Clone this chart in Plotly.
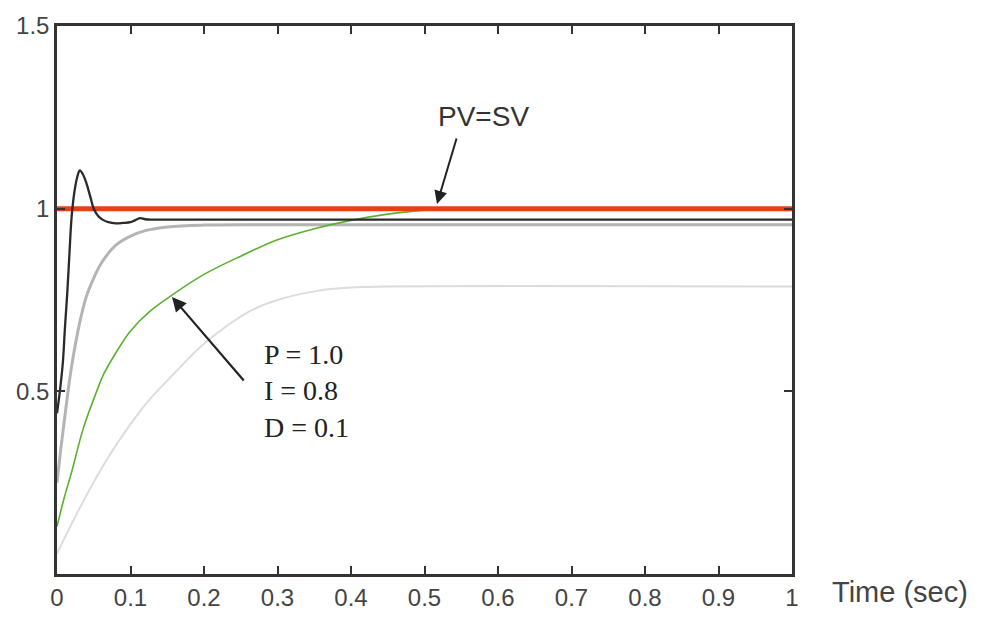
import plotly.graph_objects as go

# Setpoint (PV=SV)
sp_t = [0.0, 1.0]
sp_v = [1.0, 1.0]

# Dark (black) response with overshoot
blk_t = [0.0, 0.002, 0.005, 0.008, 0.011, 0.014, 0.017, 0.02, 0.024, 0.028, 0.031, 0.035,
         0.04, 0.045, 0.05, 0.056, 0.062, 0.07, 0.08, 0.09, 0.1, 0.106, 0.113, 0.12, 0.13, 0.2, 1.0]
blk_v = [0.44, 0.47, 0.52, 0.58, 0.68, 0.77, 0.88, 0.98, 1.05, 1.09, 1.105, 1.095,
         1.07, 1.035, 1.0, 0.98, 0.97, 0.963, 0.96, 0.961, 0.963, 0.968, 0.974, 0.971, 0.97, 0.97, 0.97]

# Medium gray response
gry_t = [0.0, 0.005, 0.01, 0.015, 0.02, 0.03, 0.04, 0.05, 0.06, 0.08, 0.1, 0.12, 0.15, 0.2, 0.3, 1.0]
gry_v = [0.25, 0.34, 0.42, 0.50, 0.57, 0.68, 0.76, 0.81, 0.85, 0.90, 0.925, 0.94, 0.95, 0.955, 0.956, 0.956]

# Green response (P=1.0, I=0.8, D=0.1)
grn_t = [0.0, 0.01, 0.02, 0.036, 0.054, 0.063, 0.08, 0.1, 0.127, 0.154, 0.2, 0.25, 0.3,
         0.35, 0.4, 0.45, 0.5, 0.55, 0.79]
grn_v = [0.13, 0.21, 0.28, 0.40, 0.50, 0.545, 0.605, 0.665, 0.72, 0.76, 0.82, 0.87, 0.915,
         0.945, 0.968, 0.985, 0.996, 1.0, 1.0]

# Light gray response
lgt_t = [0.0, 0.036, 0.07, 0.1, 0.127, 0.16, 0.2, 0.263, 0.3, 0.354, 0.4, 0.45, 1.0]
lgt_v = [0.056, 0.2, 0.32, 0.41, 0.48, 0.55, 0.63, 0.72, 0.75, 0.775, 0.784, 0.787, 0.787]

x_ticks = [0, 0.1, 0.2, 0.3, 0.4, 0.5, 0.6, 0.7, 0.8, 0.9, 1]
x_labels = ["0", "0.1", "0.2", "0.3", "0.4", "0.5", "0.6", "0.7", "0.8", "0.9", "1"]
y_ticks = [0.5, 1, 1.5]
y_labels = ["0.5", "1", "1.5"]

fig = go.Figure()
fig.add_trace(go.Scatter(x=lgt_t, y=lgt_v, mode="lines", line=dict(color="#dcdcdc", width=2, shape="spline")))
fig.add_trace(go.Scatter(x=gry_t, y=gry_v, mode="lines", line=dict(color="#b4b4b4", width=3, shape="spline")))
fig.add_trace(go.Scatter(x=grn_t, y=grn_v, mode="lines", line=dict(color="#5cb030", width=1.6, shape="spline")))
fig.add_trace(go.Scatter(x=sp_t, y=sp_v, mode="lines", line=dict(color="#e4420e", width=5)))
fig.add_trace(go.Scatter(x=blk_t, y=blk_v, mode="lines", line=dict(color="#2a2a2a", width=2.3, shape="spline")))

axis_common = dict(
    showline=True, linecolor="#333333", linewidth=2.5, mirror="ticks",
    ticks="inside", ticklen=8, tickwidth=1.5, tickcolor="#333333",
    showgrid=False, zeroline=False,
    tickfont=dict(family="Liberation Sans, Arial", size=24, color="#444444"),
)

fig.update_layout(
    width=988, height=623,
    margin=dict(l=57, r=196, t=24, b=35),
    paper_bgcolor="white", plot_bgcolor="white",
    showlegend=False,
    xaxis=dict(range=[0, 1], tickvals=x_ticks, ticktext=x_labels, **axis_common),
    yaxis=dict(range=[0, 1.5], tickvals=y_ticks, ticktext=y_labels, **axis_common),
)

fig.add_annotation(
    x=0.517, y=1.013, xref="x", yref="y", text="", showarrow=True,
    axref="pixel", ayref="pixel", ax=20, ay=-67,
    arrowhead=2, arrowsize=1.3, arrowwidth=2, arrowcolor="#222222",
)
fig.add_annotation(
    x=0.1565, y=0.758, xref="x", yref="y", text="", showarrow=True,
    axref="pixel", ayref="pixel", ax=73, ay=85,
    arrowhead=2, arrowsize=1.3, arrowwidth=2.2, arrowcolor="#222222",
)
fig.add_annotation(
    x=0.58, y=1.253, xref="x", yref="y", text="PV=SV", showarrow=False,
    font=dict(family="Liberation Sans, Arial", size=28, color="#333333"),
)
fig.add_annotation(
    x=0.279, y=0.5, xref="x", yref="y", xanchor="left", yanchor="middle", align="left",
    text="P = 1.0<br>I = 0.8<br>D = 0.1", showarrow=False,
    font=dict(family="Liberation Serif, Times New Roman", size=28, color="#222222"),
)
fig.add_annotation(
    x=1.0517, y=-0.032, xref="paper", yref="paper", xanchor="left", yanchor="middle",
    text="Time (sec)", showarrow=False,
    font=dict(family="Liberation Sans, Arial", size=29, color="#444444"),
)

fig.write_html("out.html")
